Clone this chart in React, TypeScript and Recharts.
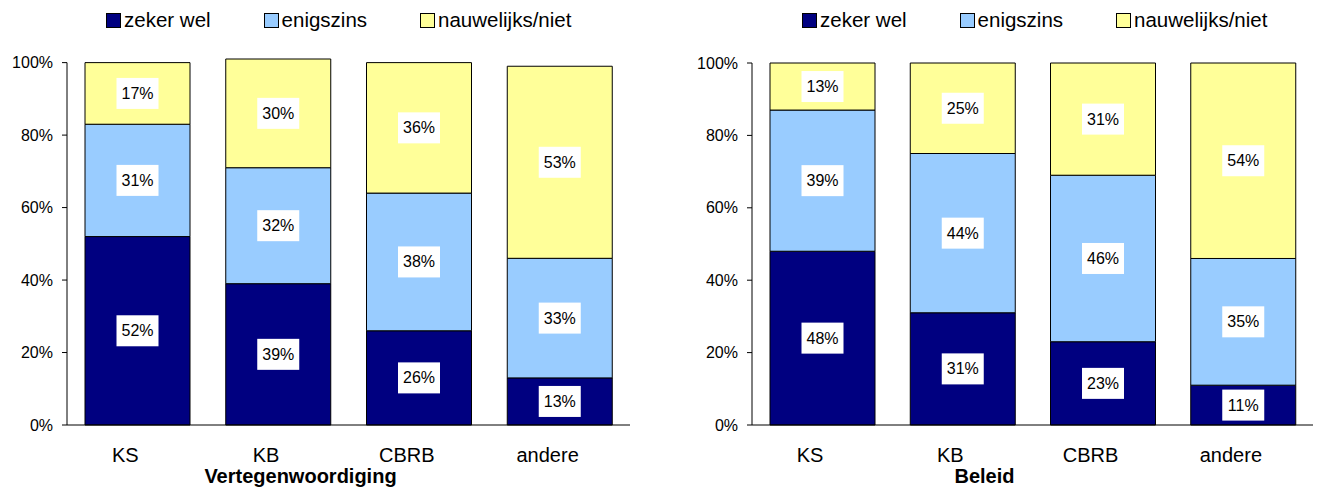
import React from 'react';
import { BarChart, Bar, XAxis, YAxis, Legend, LabelList, ReferenceLine } from 'recharts';

const categories = ['KS', 'KB', 'CBRB', 'andere'];
const seriesNames = ['zeker wel', 'enigszins', 'nauwelijks/niet'];
const yTicks = [0, 20, 40, 60, 80, 100];

const vertZeker = [52, 39, 26, 13];
const vertEnig = [31, 32, 38, 33];
const vertNauw = [17, 30, 36, 53];

const beleidZeker = [48, 31, 23, 11];
const beleidEnig = [39, 44, 46, 35];
const beleidNauw = [13, 25, 31, 54];

const FONT = '"Liberation Sans", Arial, sans-serif';
const COLORS = ['#000080', '#99CCFF', '#FFFF99'];

const buildRows = (a: number[], b: number[], c: number[]) =>
  categories.map((cat, i) => ({ cat, zeker: a[i], enig: b[i], nauw: c[i] }));

const vertData = buildRows(vertZeker, vertEnig, vertNauw);
const beleidData = buildRows(beleidZeker, beleidEnig, beleidNauw);

const BoxLabel = (props: any) => {
  const { x, y, width, height, value } = props;
  const cx = Number(x) + Number(width) / 2;
  const cy = Number(y) + Number(height) / 2;
  return (
    <g>
      <rect x={cx - 21} y={cy - 15.5} width={42} height={31} fill="#ffffff" />
      <text
        x={cx}
        y={cy}
        textAnchor="middle"
        dominantBaseline="central"
        fontSize={16}
        fontFamily={FONT}
        fill="#000"
      >
        {value}%
      </text>
    </g>
  );
};

const LegendBox = (props: any) => {
  // keep the series order, recharts sorts the payload by name
  const items = [...(props.payload || [])].sort(
    (a: any, b: any) => seriesNames.indexOf(a.value) - seriesNames.indexOf(b.value)
  );
  return (
    <div style={{ display: 'flex', alignItems: 'center', height: 20, gap: 53, fontFamily: FONT, fontSize: 20.5 }}>
      {items.map((p: any) => (
        <div key={p.value} style={{ display: 'flex', alignItems: 'center', whiteSpace: 'nowrap' }}>
          <span
            style={{
              display: 'inline-block',
              width: 15,
              height: 15,
              boxSizing: 'border-box',
              border: '1px solid #000',
              background: p.color,
              marginRight: 3,
            }}
          />
          <span style={{ color: '#000' }}>{p.value}</span>
        </div>
      ))}
    </div>
  );
};

type PanelProps = {
  data: any[];
  title: string;
  width: number;
  yWidth: number;
  marginTop: number;
  marginRight: number;
  domainMax: number;
  legendLeft: number;
  drawAxisLine: boolean;
};

function Panel({ data, title, width, yWidth, marginTop, marginRight, domainMax, legendLeft, drawAxisLine }: PanelProps) {
  return (
    <BarChart
      width={width}
      height={488}
      data={data}
      margin={{ top: marginTop, right: marginRight, bottom: 0, left: 0 }}
      style={{ fontFamily: FONT }}
    >
      <Legend
        verticalAlign="top"
        content={<LegendBox />}
        wrapperStyle={{ top: 10, left: legendLeft, width: 'auto' }}
      />
      <XAxis
        dataKey="cat"
        tickLine={false}
        tickSize={0}
        tickMargin={23}
        height={63}
        axisLine={{ stroke: '#000' }}
        tick={{ fontSize: 20, fill: '#000', fontFamily: FONT, dx: -12 }}
        label={{
          value: title,
          position: 'insideBottom',
          offset: 5,
          dx: -48,
          fontSize: 20,
          fontWeight: 'bold',
          fill: '#000',
          fontFamily: FONT,
        }}
      />
      <YAxis
        type="number"
        domain={[0, domainMax]}
        ticks={yTicks}
        width={yWidth}
        tickSize={5}
        tickMargin={9}
        axisLine={drawAxisLine ? false : { stroke: '#000' }}
        tickLine={{ stroke: '#000' }}
        tick={{ fontSize: 16, fill: '#000', fontFamily: FONT }}
        tickFormatter={(v: number) => `${v}%`}
      />
      {drawAxisLine && (
        <ReferenceLine
          segment={[
            { x: categories[0], y: 0 },
            { x: categories[0], y: 100 },
          ]}
          position="start"
          stroke="#000"
        />
      )}
      <Bar dataKey="zeker" name={seriesNames[0]} stackId="s" fill={COLORS[0]} stroke="#000" strokeWidth={1} barSize={105} isAnimationActive={false}>
        <LabelList dataKey="zeker" content={<BoxLabel />} />
      </Bar>
      <Bar dataKey="enig" name={seriesNames[1]} stackId="s" fill={COLORS[1]} stroke="#000" strokeWidth={1} barSize={105} isAnimationActive={false}>
        <LabelList dataKey="enig" content={<BoxLabel />} />
      </Bar>
      <Bar dataKey="nauw" name={seriesNames[2]} stackId="s" fill={COLORS[2]} stroke="#000" strokeWidth={1} barSize={105} isAnimationActive={false}>
        <LabelList dataKey="nauw" content={<BoxLabel />} />
      </Bar>
    </BarChart>
  );
}

export default function App() {
  return (
    <div style={{ position: 'absolute', left: 0, top: 0, width: 1319, height: 488, display: 'flex', background: '#fff' }}>
      <Panel
        data={vertData}
        title="Vertegenwoordiging"
        width={660}
        yWidth={67}
        marginTop={39}
        marginRight={30}
        domainMax={101}
        legendLeft={106}
        drawAxisLine={true}
      />
      <Panel
        data={beleidData}
        title="Beleid"
        width={659}
        yWidth={92}
        marginTop={43}
        marginRight={6}
        domainMax={100}
        legendLeft={142}
        drawAxisLine={false}
      />
    </div>
  );
}
